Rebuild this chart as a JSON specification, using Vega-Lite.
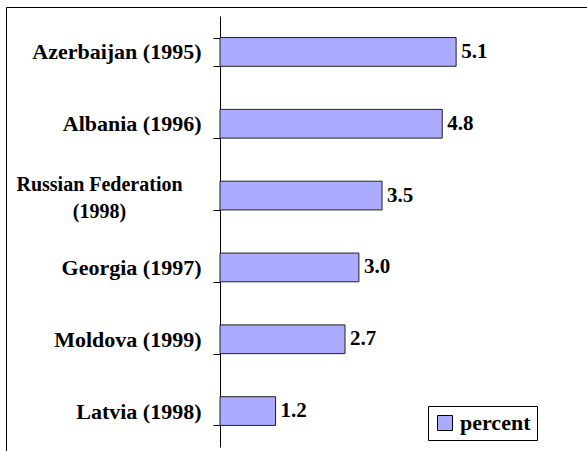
{
  "$schema": "https://vega.github.io/schema/vega-lite/v6.json",
  "autosize": "none",
  "width": 600,
  "height": 460,
  "padding": {"left": 6, "top": 7, "right": 0, "bottom": 0},
  "background": "white",
  "config": {
    "view": {"stroke": "black", "strokeWidth": 1},
    "font": "'Liberation Serif', serif"
  },
  "data": {
    "values": [
      {"country": "Azerbaijan (1995)", "value": 5.1, "series": "percent"},
      {"country": "Albania (1996)", "value": 4.8, "series": "percent"},
      {"country": "Russian Federation (1998)", "value": 3.5, "series": "percent"},
      {"country": "Georgia (1997)", "value": 3.0, "series": "percent"},
      {"country": "Moldova (1999)", "value": 2.7, "series": "percent"},
      {"country": "Latvia (1998)", "value": 1.2, "series": "percent"}
    ]
  },
  "encoding": {
    "y": {
      "field": "country",
      "type": "nominal",
      "sort": null,
      "scale": {"range": [9, 440], "paddingInner": 0.6, "paddingOuter": 0.3},
      "axis": {
        "title": null,
        "offset": -214,
        "domainColor": "black",
        "tickColor": "black",
        "tickSize": 7,
        "tickBand": "extent",
        "labelFont": "'Liberation Serif', serif",
        "labelFontWeight": "bold",
        "labelFontSize": {"condition": {"test": "datum.value == 'Russian Federation (1998)'", "value": 20}, "value": 22},
        "labelColor": "black",
        "labelLimit": 300,
        "labelAlign": {"condition": {"test": "datum.value == 'Russian Federation (1998)'", "value": "center"}, "value": "right"},
        "labelPadding": {"condition": {"test": "datum.value == 'Russian Federation (1998)'", "value": 114}, "value": 12},
        "labelOffset": {"condition": {"test": "datum.value == 'Russian Federation (1998)'", "value": -11}, "value": 0},
        "labelExpr": "datum.value == 'Russian Federation (1998)' ? ['Russian Federation', '(1998)'] : datum.value",
        "labelLineHeight": 27
      }
    },
    "x": {
      "field": "value",
      "type": "quantitative",
      "scale": {"domain": [0, 8], "range": [214, 584.4]},
      "axis": null
    }
  },
  "layer": [
    {
      "mark": {"type": "bar", "stroke": "#222222", "strokeWidth": 1},
      "encoding": {
        "color": {
          "field": "series",
          "type": "nominal",
          "scale": {"range": ["#aaaaff"]},
          "legend": {
            "title": null,
            "orient": "none",
            "legendX": 422,
            "legendY": 399,
            "strokeColor": "black",
            "fillColor": "white",
            "padding": 6,
            "symbolType": "square",
            "symbolSize": 225,
            "symbolStrokeColor": "black",
            "symbolStrokeWidth": 1,
            "symbolOpacity": 1,
            "labelFont": "'Liberation Serif', serif",
            "labelFontWeight": "bold",
            "labelFontSize": 22,
            "labelColor": "black",
            "labelOffset": 4
          }
        }
      }
    },
    {
      "mark": {"type": "text", "align": "left", "baseline": "middle", "dx": 5, "font": "'Liberation Serif', serif", "fontWeight": "bold", "fontSize": 21, "color": "black"},
      "encoding": {
        "text": {"field": "value", "type": "quantitative", "format": ".1f"}
      }
    }
  ]
}
